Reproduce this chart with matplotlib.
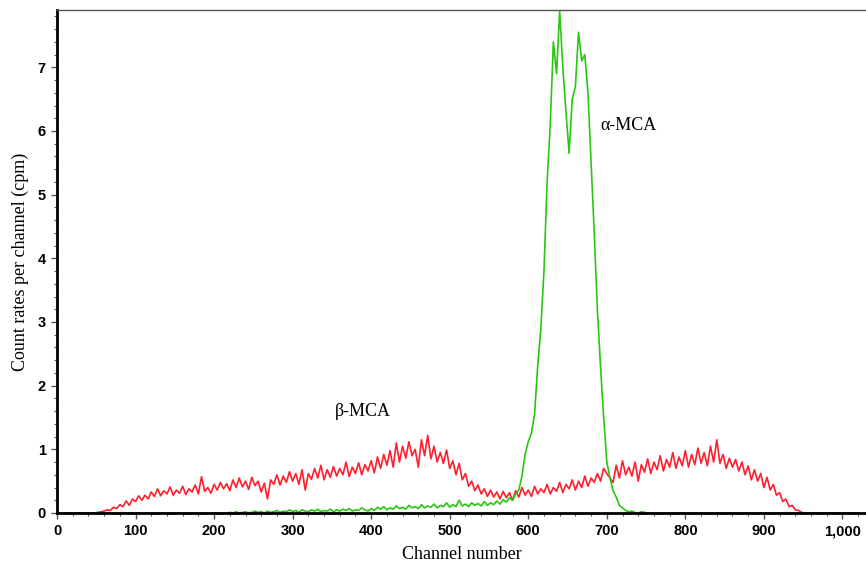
import matplotlib
matplotlib.use("Agg")
import matplotlib.pyplot as plt
from matplotlib.ticker import MultipleLocator, FuncFormatter
import numpy as np

# channel grid (every 4th channel)
channels = np.arange(0, 1024, 4)

beta_mca = [
    0, 0, 0, 0, 0, 0, 0, 0, 0, 0, 0, 0, 0,
    0.01, 0.02, 0.03, 0.05, 0.04, 0.09, 0.07, 0.13, 0.10, 0.19, 0.12, 0.22,
    0.18, 0.27, 0.20, 0.28, 0.22, 0.33, 0.26, 0.38, 0.27, 0.35, 0.30, 0.41,
    0.28, 0.36, 0.31, 0.42, 0.29, 0.38, 0.33, 0.44, 0.30, 0.57, 0.34, 0.40,
    0.31, 0.45, 0.36, 0.48, 0.38, 0.46, 0.35, 0.52, 0.40, 0.55, 0.41, 0.50,
    0.37, 0.56, 0.43, 0.50, 0.33, 0.47, 0.22, 0.52, 0.45, 0.60, 0.44, 0.58,
    0.48, 0.65, 0.50, 0.62, 0.45, 0.68, 0.36, 0.62, 0.53, 0.70, 0.55, 0.75,
    0.52, 0.68, 0.56, 0.73, 0.58, 0.70, 0.60, 0.80, 0.57, 0.72, 0.62, 0.79,
    0.60, 0.76, 0.66, 0.82, 0.63, 0.88, 0.70, 0.92, 0.75, 0.98, 0.72, 1.10,
    0.80, 1.05, 0.86, 1.12, 0.90, 1.00, 0.72, 1.15, 0.90, 1.22, 0.85, 1.05,
    0.80, 0.95, 0.78, 0.99, 0.70, 0.82, 0.60, 0.78, 0.52, 0.62, 0.42, 0.50,
    0.35, 0.44, 0.30, 0.38, 0.26, 0.36, 0.25, 0.33, 0.22, 0.34, 0.24, 0.32,
    0.20, 0.35, 0.25, 0.40, 0.28, 0.36, 0.26, 0.42, 0.30, 0.38, 0.32, 0.45,
    0.30, 0.40, 0.34, 0.48, 0.32, 0.45, 0.38, 0.52, 0.36, 0.50, 0.40, 0.58,
    0.42, 0.55, 0.48, 0.62, 0.50, 0.70, 0.62, 0.55, 0.48, 0.75, 0.55, 0.82,
    0.60, 0.72, 0.58, 0.80, 0.50, 0.76, 0.64, 0.85, 0.62, 0.80, 0.68, 0.90,
    0.66, 0.84, 0.72, 0.95, 0.70, 0.88, 0.74, 0.98, 0.72, 0.92, 0.76, 1.02,
    0.78, 0.95, 0.74, 1.05, 0.80, 1.15, 0.78, 0.92, 0.70, 0.86, 0.72, 0.84,
    0.66, 0.80, 0.60, 0.74, 0.52, 0.68, 0.50, 0.62, 0.40, 0.56, 0.36, 0.45,
    0.28, 0.32, 0.18, 0.22, 0.10, 0.12, 0.05, 0.04, 0.01,
    0, 0, 0, 0, 0, 0, 0, 0, 0, 0, 0, 0, 0, 0, 0, 0, 0, 0,
]

alpha_mca = [
    0, 0, 0, 0, 0, 0, 0, 0, 0, 0, 0, 0, 0, 0, 0, 0, 0, 0, 0, 0,
    0, 0, 0, 0, 0, 0, 0, 0, 0, 0, 0, 0, 0, 0, 0, 0, 0, 0, 0, 0,
    0, 0, 0, 0, 0, 0, 0, 0, 0, 0, 0, 0, 0, 0, 0,
    0.01, 0.00, 0.02, 0.00, 0.01, 0.02, 0.00, 0.01, 0.03, 0.01, 0.02, 0.00,
    0.03, 0.01, 0.02, 0.04, 0.01, 0.03, 0.02, 0.05, 0.02, 0.04, 0.01, 0.05,
    0.03, 0.02, 0.05, 0.03, 0.06, 0.02, 0.04, 0.03, 0.06, 0.02, 0.05, 0.03,
    0.06, 0.04, 0.07, 0.03, 0.05, 0.04, 0.08, 0.05, 0.03, 0.07, 0.04, 0.09,
    0.06, 0.10, 0.05, 0.08, 0.06, 0.11, 0.07, 0.09, 0.06, 0.12, 0.08, 0.10,
    0.07, 0.13, 0.08, 0.11, 0.09, 0.14, 0.08, 0.12, 0.10, 0.16, 0.09, 0.13,
    0.10, 0.20, 0.11, 0.14, 0.10, 0.16, 0.12, 0.15, 0.11, 0.18, 0.12, 0.16,
    0.13, 0.19, 0.14, 0.21, 0.17, 0.24, 0.20, 0.30, 0.36, 0.58, 0.92, 1.12,
    1.25, 1.55, 2.30, 2.90, 3.80, 5.20, 6.10, 7.40, 6.90, 7.88, 7.00, 6.30,
    5.65, 6.50, 6.70, 7.55, 7.10, 7.20, 6.60, 5.50, 4.40, 3.20, 2.30, 1.50,
    0.80, 0.55, 0.35, 0.25, 0.12, 0.08, 0.04, 0.02, 0.03, 0.01, 0.00, 0.02,
    0.01, 0.00,
    0, 0, 0, 0, 0, 0, 0, 0, 0, 0, 0, 0, 0, 0, 0, 0, 0, 0, 0, 0,
    0, 0, 0, 0, 0, 0, 0, 0, 0, 0, 0, 0, 0, 0, 0, 0, 0, 0, 0, 0,
    0, 0, 0, 0, 0, 0, 0, 0, 0, 0, 0, 0, 0, 0, 0, 0, 0, 0, 0, 0,
    0, 0, 0, 0, 0, 0, 0,
]

x_ticks = [0, 100, 200, 300, 400, 500, 600, 700, 800, 900, 1000]
y_ticks = [0, 1, 2, 3, 4, 5, 6, 7]

fig = plt.figure(figsize=(8.66, 5.67), dpi=100)
ax = fig.add_axes([57 / 866, 1 - 513 / 567, 1 - 57 / 866, (513 - 10) / 567])

ax.plot(channels[:len(beta_mca)], beta_mca, color="#ff1f2e", lw=1.2)
ax.plot(channels[:len(alpha_mca)], alpha_mca, color="#26c80f", lw=1.2)

ax.set_xlim(0, 1030)
ax.set_ylim(0, 7.9)
ax.set_xticks(x_ticks)
ax.set_yticks(y_ticks)
ax.xaxis.set_minor_locator(MultipleLocator(20))
ax.yaxis.set_minor_locator(MultipleLocator(0.2))
ax.xaxis.set_major_formatter(FuncFormatter(lambda v, p: f"{v:,.0f}"))

for lab in ax.get_xticklabels() + ax.get_yticklabels():
    lab.set_fontweight("bold")
    lab.set_family("Liberation Sans")
    lab.set_fontsize(10.5)

ax.tick_params(which="major", direction="out", length=4, width=1, color="#555555", pad=4)
ax.tick_params(which="minor", direction="out", length=2.5, width=0.8, color="#555555")

ax.spines["left"].set_linewidth(2)
ax.spines["bottom"].set_linewidth(2)
ax.spines["top"].set_linewidth(1)
ax.spines["top"].set_color("#555555")
ax.spines["right"].set_visible(False)

ax.set_xlabel("Channel number", family="Liberation Serif", fontsize=13, labelpad=6)
ax.set_ylabel("Count rates per channel (cpm)", family="Liberation Serif", fontsize=13, labelpad=6)

ax.text(692, 6.09, "α-MCA", family="Liberation Serif", fontsize=13, va="center", ha="left")
ax.text(389, 1.59, "β-MCA", family="Liberation Serif", fontsize=13, va="center", ha="center")

fig.savefig("out.png", dpi=100)
